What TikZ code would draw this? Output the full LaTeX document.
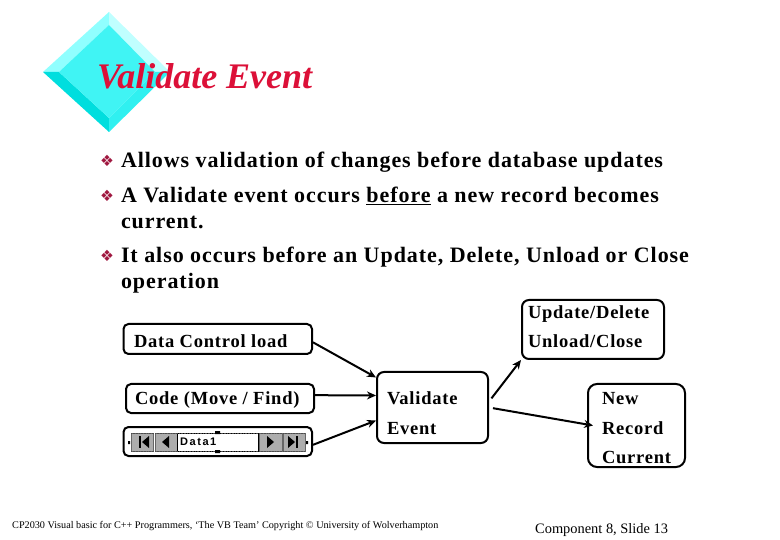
\documentclass[tikz,border=0pt]{standalone}
\usepackage{fontspec}
\setmainfont{Liberation Serif}
\newfontfamily\bodyfont[LetterSpace=4.3]{Liberation Serif Bold}
\newfontfamily\labelfont[LetterSpace=4.2]{Liberation Serif Bold}
\newfontfamily\titlefont{Liberation Serif Bold Italic}
\newfontfamily\symfont{DejaVu Sans}
\newfontfamily\navfont[LetterSpace=14]{Liberation Sans Bold}
\definecolor{titlered}{HTML}{DC1038}
\definecolor{bulletred}{HTML}{A01840}
\definecolor{facetTL}{HTML}{90FFFF}
\definecolor{facetTR}{HTML}{C0FFFF}
\definecolor{facetBL}{HTML}{00DEDE}
\definecolor{facetBR}{HTML}{30F0F0}
\definecolor{facetC}{HTML}{40F4F4}
\usetikzlibrary{arrows.meta}
\tikzset{
  x=1pt,y=-1pt,
  txt/.style={anchor=base west,inner sep=0pt,outer sep=0pt,font=\fontsize{22}{22}\selectfont\bodyfont},
  lab/.style={anchor=base west,inner sep=0pt,outer sep=0pt,font=\fontsize{18.5}{18.5}\selectfont\labelfont},
  bul/.style={anchor=center,inner sep=0pt,text=bulletred,font=\fontsize{15.5}{15.5}\selectfont\symfont},
  rbox/.style={draw=black,line width=2pt,rounded corners=5pt,fill=white,inner sep=0pt},
  arr/.style={draw=black,line width=2pt,-{Stealth[length=9pt,width=8pt]}},
  navbtn/.style={fill=black!32,draw=black!60,line width=.6pt},
  navglyph/.style={fill=black,draw=none},
}
\begin{document}
\begin{tikzpicture}
\useasboundingbox (0,0) rectangle (780,540);
\fill[white] (0,0) rectangle (780,540);
% diamond
\fill[facetTL] (109,12) -- (43,72) -- (59,72) -- (109,25) -- cycle;
\fill[facetTR] (109,12) -- (170,72) -- (155,72) -- (109,25) -- cycle;
\fill[facetBL] (43,72) -- (109,132) -- (109,118) -- (59,72) -- cycle;
\fill[facetBR] (170,72) -- (109,132) -- (109,118) -- (155,72) -- cycle;
\fill[facetC] (109,25) -- (155,72) -- (109,118) -- (59,72) -- cycle;
% title
\node[anchor=base west,inner sep=0pt,text=titlered,font=\fontsize{36}{36}\selectfont\titlefont] (title) at (97,88.5) {Validate Event};
% bullets
\node[bul] (b1) at (107,161) {❖};
\node[bul] (b2) at (107,196) {❖};
\node[bul] (b3) at (107,256) {❖};
% body
\node[txt] (t1) at (121,168) {Allows validation of changes before database updates};
\node[txt] (t2) at (121,203) {A Validate event occurs \underline{before} a new record becomes};
\node[txt] (t3) at (121,229) {current.};
\node[txt] (t4) at (121,263) {It also occurs before an Update, Delete, Unload or Close};
\node[txt] (t5) at (121,289) {operation};
% boxes
\node[rbox,minimum width=188.5pt,minimum height=30pt] (dcl) at (217.75,339) {};
\node[rbox,minimum width=188pt,minimum height=29pt] (code) at (220,398.5) {};
\node[rbox,minimum width=188.5pt,minimum height=29pt] (nav) at (217.75,441.5) {};
\node[rbox,minimum width=111pt,minimum height=71pt,rounded corners=7pt] (val) at (432.5,407.5) {};
\node[rbox,minimum width=142pt,minimum height=59pt,rounded corners=7pt] (upd) at (593,329.5) {};
\node[rbox,minimum width=97pt,minimum height=83pt,rounded corners=9pt] (new) at (636.5,425.5) {};
% labels
\node[lab] (l1) at (134,348) {Data Control load};
\node[lab] (l2) at (135,405) {Code (Move / Find)};
\node[lab] (l3) at (387,405) {Validate};
\node[lab] (l4) at (387,434) {Event};
\node[lab] (l5) at (528,319) {Update/Delete};
\node[lab] (l6) at (528,348) {Unload/Close};
\node[lab] (l7) at (602,405) {New};
\node[lab] (l8) at (602,434) {Record};
\node[lab] (l9) at (602,463) {Current};
% navigator
\fill[navbtn] (131,433) rectangle (153,451);
\fill[navbtn] (155,433) rectangle (177,451);
\fill[navbtn] (259,433) rectangle (282,451);
\fill[navbtn] (283,433) rectangle (305,451);
\draw[black,line width=.7pt] (177,433) rectangle (258,451);
\draw[black!70,line width=.6pt,densely dotted] (131,433) -- (305,433) (131,451) -- (305,451);
\fill[navglyph] (139,436) rectangle (141,448);
\fill[navglyph] (142,442) -- (149,436) -- (149,448) -- cycle;
\fill[navglyph] (162,442) -- (169,436) -- (169,448) -- cycle;
\fill[navglyph] (267,436) -- (274,442) -- (267,448) -- cycle;
\fill[navglyph] (288,436) -- (295,442) -- (288,448) -- cycle;
\fill[navglyph] (296,436) rectangle (298,448);
\fill[black] (128,441) rectangle (130,444) (306,441) rectangle (308,444);
\fill[black] (215,431) rectangle (220,434) (215,450) rectangle (220,453);
\node[anchor=base west,inner sep=0pt,font=\fontsize{11}{11}\selectfont\navfont] (navtxt) at (180,446) {Data1};
% connectors
\draw[arr] (dcl.-2) -- (val.152);
\draw[arr] (code.2) -- (val.168);
\draw[arr] (nav.-2) -- (val.193);
\draw[arr,shorten <=4pt] (val.6) -- (upd.south west);
\draw[arr,shorten <=4pt] (val.east) -- ([xshift=6pt]new.west);
% footer
\node[anchor=base west,inner sep=0pt,font=\fontsize{10.2}{10.2}\selectfont] (foot) at (12,528.5) {CP2030 Visual basic for C++ Programmers, ‘The VB Team’ Copyright © University of Wolverhampton};
\node[anchor=base west,inner sep=0pt,font=\fontsize{14.4}{14.4}\selectfont] (slide) at (535,533) {Component 8, Slide 13};
\end{tikzpicture}
\end{document}
